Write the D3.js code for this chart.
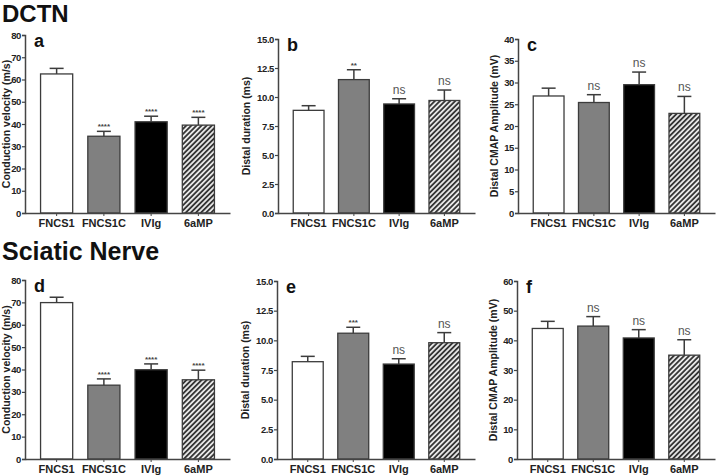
<!DOCTYPE html>
<html><head><meta charset="utf-8">
<script src="https://cdn.jsdelivr.net/npm/d3@7"></script>
<style>
body{margin:0;background:#fff;}
svg{display:block;}
text{font-family:"Liberation Sans",Arial,sans-serif;}
</style></head>
<body>
<svg id="chart" width="722" height="476"></svg>
<script>
const categories = ["FNCS1","FNCS1C","IVIg","6aMP"];

const dctnVelocity      = [62.5, 34.5, 41.0, 39.5];
const dctnVelocityErr   = [2.5, 2.2, 2.5, 3.5];
const dctnVelocitySig   = ["", "****", "****", "****"];

const dctnDuration      = [8.85, 11.5, 9.4, 9.7];
const dctnDurationErr   = [0.4, 0.85, 0.45, 0.9];
const dctnDurationSig   = ["", "**", "ns", "ns"];

const dctnAmplitude     = [26.9, 25.4, 29.5, 22.9];
const dctnAmplitudeErr  = [1.8, 1.8, 2.9, 3.9];
const dctnAmplitudeSig  = ["", "ns", "ns", "ns"];

const sciaticVelocity     = [69.9, 33.0, 39.9, 35.4];
const sciaticVelocityErr  = [2.4, 2.8, 2.6, 4.3];
const sciaticVelocitySig  = ["", "****", "****", "****"];

const sciaticDuration     = [8.2, 10.6, 8.0, 9.8];
const sciaticDurationErr  = [0.45, 0.5, 0.45, 0.85];
const sciaticDurationSig  = ["", "***", "ns", "ns"];

const sciaticAmplitude    = [44.0, 44.8, 40.8, 35.0];
const sciaticAmplitudeErr = [2.4, 3.2, 2.8, 5.2];
const sciaticAmplitudeSig = ["", "ns", "ns", "ns"];

const velocityTicks  = [0,10,20,30,40,50,60,70,80];
const durationTicks  = [0,2.5,5,7.5,10,12.5,15];
const ampTicksDCTN   = [0,5,10,15,20,25,30,35,40];
const ampTicksSciatic= [0,10,20,30,40,50,60];

const sectionTitles = ["DCTN","Sciatic Nerve"];

const svg = d3.select("#chart");
const defs = svg.append("defs");
const pat = defs.append("pattern").attr("id","hatch").attr("patternUnits","userSpaceOnUse")
  .attr("width",3.6).attr("height",3.6).attr("patternTransform","rotate(45)");
pat.append("rect").attr("width",3.6).attr("height",3.6).attr("fill","#e6e6e6");
pat.append("line").attr("x1",0.9).attr("y1",0).attr("x2",0.9).attr("y2",3.6)
  .attr("stroke","#2a2a2a").attr("stroke-width",1.7);

const fills = ["#ffffff","#808080","#000000","url(#hatch)"];
const narrow = "'Liberation Sans Narrow','Liberation Sans',Arial,sans-serif";

function panel(cfg){
  const g = svg.append("g");
  const x = d3.scaleBand().domain(categories).range([cfg.x0+8, cfg.x1-8])
    .paddingInner(0.32).paddingOuter(0.16);
  const y = d3.scaleLinear().domain([0, cfg.max]).range([cfg.yb, cfg.yt]);

  g.selectAll("rect.bar").data(cfg.values).join("rect")
    .attr("x",(d,i)=>x(categories[i])).attr("width",x.bandwidth())
    .attr("y",d=>y(d)).attr("height",d=>y(0)-y(d))
    .attr("fill",(d,i)=>fills[i]).attr("stroke","#3c3c3c").attr("stroke-width",1.3);

  cfg.values.forEach((v,i)=>{
    const cx = x(categories[i]) + x.bandwidth()/2;
    const top = y(v+cfg.err[i]);
    g.append("line").attr("x1",cx).attr("x2",cx).attr("y1",y(v)).attr("y2",top)
      .attr("stroke","#3c3c3c").attr("stroke-width",1.5);
    g.append("line").attr("x1",cx-7).attr("x2",cx+7).attr("y1",top).attr("y2",top)
      .attr("stroke","#3c3c3c").attr("stroke-width",1.5);
    const s = cfg.sig[i];
    if(s){
      if(s==="ns"){
        g.append("text").attr("x",cx).attr("y",top-5).attr("text-anchor","middle")
          .attr("font-size",12).attr("fill","#555555").attr("font-family",narrow).text(s);
      } else {
        g.append("text").attr("x",cx).attr("y",top-2).attr("text-anchor","middle")
          .attr("font-size",8).attr("font-weight","bold").attr("fill","#444").text(s);
      }
    }
  });

  const ya = g.append("g").attr("transform",`translate(${cfg.x0},0)`)
    .call(d3.axisLeft(y).tickValues(cfg.ticks).tickSize(3).tickPadding(1)
      .tickFormat(cfg.fmt));
  ya.select(".domain").attr("stroke","#444").attr("stroke-width",1.5);
  ya.selectAll(".tick line").attr("stroke","#444").attr("stroke-width",1.2);
  ya.selectAll("text").attr("font-size",9.5).attr("font-weight","bold").attr("fill","#222")
    .attr("font-family",narrow).attr("letter-spacing",-0.4);

  const xa = g.append("g").attr("transform",`translate(0,${cfg.yb})`)
    .call(d3.axisBottom(d3.scaleLinear().range([cfg.x0,cfg.x1])).ticks(0).tickSize(0));
  xa.select(".domain").attr("stroke","#444").attr("stroke-width",1.5);
  const xl = g.append("g").attr("transform",`translate(0,${cfg.yb})`)
    .call(d3.axisBottom(x).tickSize(3).tickPadding(3));
  xl.select(".domain").remove();
  xl.selectAll(".tick line").attr("stroke","#444");
  xl.selectAll("text").attr("font-size",11).attr("font-weight","bold").attr("fill","#222")
    .attr("font-family",narrow);

  g.append("text").attr("transform",`translate(${cfg.lx},${(cfg.yt+cfg.yb)/2}) rotate(-90)`)
    .attr("text-anchor","middle").attr("font-size",10.5).attr("font-weight","bold")
    .attr("fill","#222").text(cfg.label);

  g.append("text").attr("x",cfg.x0+9).attr("y",cfg.yt+12).attr("font-size",18)
    .attr("font-weight","bold").attr("fill","#111").text(cfg.letter);
}

const f0 = d3.format("d"), f1 = d3.format(".1f");

panel({x0:25,x1:230,yt:35,yb:213,max:80,values:dctnVelocity,err:dctnVelocityErr,sig:dctnVelocitySig,
  ticks:velocityTicks,fmt:f0,label:"Conduction velocity (m/s)",lx:9.7,letter:"a"});
panel({x0:278,x1:475,yt:39,yb:213,max:15,values:dctnDuration,err:dctnDurationErr,sig:dctnDurationSig,
  ticks:durationTicks,fmt:f1,label:"Distal duration (ms)",lx:250,letter:"b"});
panel({x0:518,x1:715,yt:39,yb:213,max:40,values:dctnAmplitude,err:dctnAmplitudeErr,sig:dctnAmplitudeSig,
  ticks:ampTicksDCTN,fmt:f0,label:"Distal CMAP Amplitude (mV)",lx:498,letter:"c"});
panel({x0:25,x1:230,yt:280,yb:459,max:80,values:sciaticVelocity,err:sciaticVelocityErr,sig:sciaticVelocitySig,
  ticks:velocityTicks,fmt:f0,label:"Conduction velocity (m/s)",lx:9.7,letter:"d"});
panel({x0:277,x1:475,yt:281,yb:459,max:15,values:sciaticDuration,err:sciaticDurationErr,sig:sciaticDurationSig,
  ticks:durationTicks,fmt:f1,label:"Distal duration (ms)",lx:249,letter:"e"});
panel({x0:517,x1:715,yt:281,yb:459,max:60,values:sciaticAmplitude,err:sciaticAmplitudeErr,sig:sciaticAmplitudeSig,
  ticks:ampTicksSciatic,fmt:f0,label:"Distal CMAP Amplitude (mV)",lx:497,letter:"f"});

svg.append("text").attr("x",2).attr("y",22).attr("font-size",24).attr("font-weight","bold")
  .attr("fill","#111").text(sectionTitles[0]);
svg.append("text").attr("x",2).attr("y",260).attr("font-size",25).attr("font-weight","bold")
  .attr("fill","#111").text(sectionTitles[1]);
</script>
</body></html>
